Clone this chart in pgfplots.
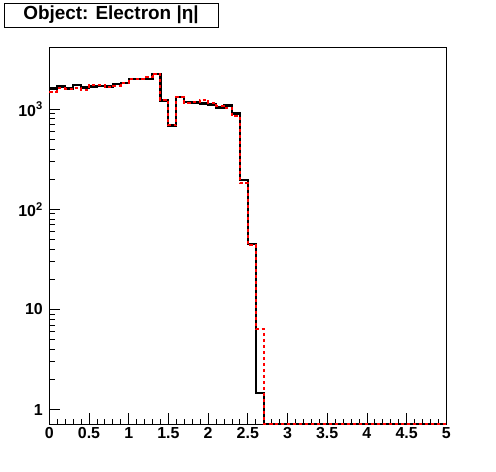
\documentclass[border=0pt]{standalone}
\usepackage{pgfplots}
\pgfplotsset{compat=1.18}
\usepackage{fontspec}
\setmainfont{Liberation Sans}[BoldFont={Liberation Sans Bold}]
\begin{document}
\begin{tikzpicture}
\path[use as bounding box] (0,0) rectangle (496bp,472bp);
\begin{axis}[
  at={(49.3bp,48bp)}, anchor=south west,
  scale only axis, width=397bp, height=376.7bp,
  xmin=0, xmax=5, ymode=log, ymin=0.72, ymax=4140,
  clip=false,
  axis line style={line width=1pt},
  tick align=inside, xtick pos=left, ytick pos=left,
  xtick={0,0.5,...,5}, minor x tick num=4,
  ytick={1,10,100,1000}, yticklabels={1,10,10\textsuperscript{2},10\textsuperscript{3}},
  major tick length=11bp, minor tick length=5.5bp,
  every tick/.style={line width=0.8pt,black},
  ticklabel style={font=\fontsize{16}{16}\selectfont\bfseries},
  /pgf/number format/assume math mode=true,
  xticklabel style={yshift=0bp},
  yticklabel style={xshift=-3bp},
]
\addplot[const plot, black, line width=2.2pt] coordinates {
(0.0,1604)(0.1,1679)(0.2,1604)(0.3,1734)(0.4,1641)(0.5,1679)(0.6,1706)(0.7,1679)(0.8,1774)(0.9,1815)
(1.0,2000)(1.1,1987)(1.2,2014)(1.3,2260)(1.4,1218)(1.5,687)(1.6,1316)(1.7,1182)(1.8,1163)(1.9,1137)
(2.0,1111)(2.1,1037)(2.2,1086)(2.3,904)(2.4,195)(2.5,44.7)(2.6,1.47)(2.7,0.72)(2.8,0.72)(2.9,0.72)
(3.0,0.72)(3.1,0.72)(3.2,0.72)(3.3,0.72)(3.4,0.72)(3.5,0.72)(3.6,0.72)(3.7,0.72)(3.8,0.72)(3.9,0.72)
(4.0,0.72)(4.1,0.72)(4.2,0.72)(4.3,0.72)(4.4,0.72)(4.5,0.72)(4.6,0.72)(4.7,0.72)(4.8,0.72)(4.9,0.72)(5.0,0.72)
};
\addplot[const plot, red, line width=2pt, dash pattern=on 3.5bp off 2.5bp] coordinates {
(0.0,1497)(0.1,1618)(0.2,1604)(0.3,1641)(0.4,1567)(0.5,1758)(0.6,1758)(0.7,1679)(0.8,1718)(0.9,1841)
(1.0,2014)(1.1,1987)(1.2,2080)(1.3,2260)(1.4,1237)(1.5,687)(1.6,1325)(1.7,1163)(1.8,1174)(1.9,1237)
(2.0,1163)(2.1,1086)(2.2,1037)(2.3,851)(2.4,181)(2.5,44)(2.6,6.4)(2.7,0.72)(2.8,0.72)(2.9,0.72)
(3.0,0.72)(3.1,0.72)(3.2,0.72)(3.3,0.72)(3.4,0.72)(3.5,0.72)(3.6,0.72)(3.7,0.72)(3.8,0.72)(3.9,0.72)
(4.0,0.72)(4.1,0.72)(4.2,0.72)(4.3,0.72)(4.4,0.72)(4.5,0.72)(4.6,0.72)(4.7,0.72)(4.8,0.72)(4.9,0.72)(5.0,0.72)
};
\end{axis}
\node[draw, line width=0.8pt, fill=white, minimum width=214bp, minimum height=24bp, inner sep=0pt,
  font=\fontsize{19}{19}\selectfont\bfseries] at (111bp,457bp) {Object: Electron |η|};
\end{tikzpicture}
\end{document}
